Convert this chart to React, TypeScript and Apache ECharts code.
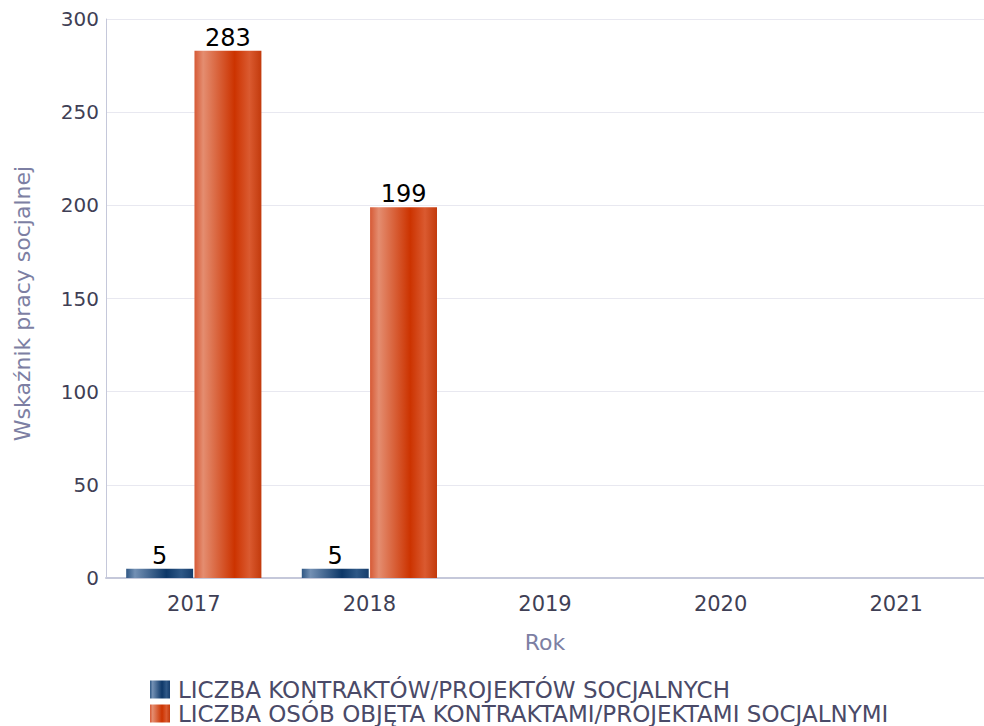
import React, { useEffect, useRef } from "react";
import * as echarts from "echarts";

const categories = ["2017", "2018", "2019", "2020", "2021"];
const seriesNames = [
  "LICZBA KONTRAKTÓW/PROJEKTÓW SOCJALNYCH",
  "LICZBA OSÓB OBJĘTA KONTRAKTAMI/PROJEKTAMI SOCJALNYMI",
];
const contracts = [5, 5, null, null, null];
const persons = [283, 199, null, null, null];

const blueGrad = () =>
  new echarts.graphic.LinearGradient(0, 0, 1, 0, [
    { offset: 0, color: "#2f5784" },
    { offset: 0.13, color: "#7390b4" },
    { offset: 0.6, color: "#0d3768" },
    { offset: 0.82, color: "#2f5887" },
    { offset: 1, color: "#163d6c" },
  ]);
const orangeGrad = () =>
  new echarts.graphic.LinearGradient(0, 0, 1, 0, [
    { offset: 0, color: "#d65a36" },
    { offset: 0.13, color: "#e48d70" },
    { offset: 0.6, color: "#cc3300" },
    { offset: 0.82, color: "#da5a30" },
    { offset: 1, color: "#c23a0c" },
  ]);

const FONT = "DejaVu Sans";

export default function App() {
  const ref = useRef<HTMLDivElement>(null);
  useEffect(() => {
    const chart = echarts.init(ref.current!, null, { renderer: "svg" });
    const labelCfg = {
      show: true,
      position: "top" as const,
      distance: 1,
      color: "#000",
      fontSize: 24,
      fontFamily: FONT,
    };
    chart.setOption({
      animation: false,
      backgroundColor: "#fff",
      grid: { left: 106, top: 19, right: -9, bottom: 148, containLabel: false },
      legend: {
        orient: "vertical",
        left: 150,
        top: 678,
        height: 48,
        padding: 0,
        itemWidth: 20,
        itemHeight: 18,
        itemGap: 1,
        icon: "rect",
        textStyle: {
          color: "#4a4a68",
          fontSize: 23,
          lineHeight: 23,
          fontFamily: FONT,
          padding: [0, 0, 0, 3],
        },
        data: seriesNames,
      },
      xAxis: {
        type: "category",
        data: categories,
        name: "Rok",
        nameLocation: "middle",
        nameGap: 53,
        nameTextStyle: { color: "#7d7fa3", fontSize: 22, fontFamily: FONT },
        axisLine: { lineStyle: { color: "#c5c8da", width: 2 } },
        axisTick: { show: false },
        axisLabel: { color: "#3f3f55", fontSize: 21, fontFamily: FONT, margin: 15 },
      },
      yAxis: {
        type: "value",
        min: 0,
        max: 300,
        interval: 50,
        name: "Wskaźnik pracy socjalnej",
        nameLocation: "middle",
        nameGap: 73,
        nameTextStyle: { color: "#7d7fa3", fontSize: 22, fontFamily: FONT, padding: [0, 10, 0, 0] },
        axisLine: { show: true, lineStyle: { color: "#c5c8da", width: 1 } },
        axisTick: { show: false },
        axisLabel: { color: "#3f3f55", fontSize: 20, fontFamily: FONT, margin: 7 },
        splitLine: { lineStyle: { color: "#e8e8f0", width: 1 } },
      },
      series: [
        {
          name: seriesNames[0],
          type: "bar",
          data: contracts,
          barGap: "2%",
          barCategoryGap: "23%",
          itemStyle: { color: blueGrad() },
          label: labelCfg,
        },
        {
          name: seriesNames[1],
          type: "bar",
          data: persons,
          barGap: "2%",
          barCategoryGap: "23%",
          itemStyle: { color: orangeGrad() },
          label: labelCfg,
        },
      ],
    });
    return () => chart.dispose();
  }, []);
  return (
    <div
      ref={ref}
      style={{ position: "fixed", left: 0, top: 0, width: 984, height: 726 }}
    />
  );
}
